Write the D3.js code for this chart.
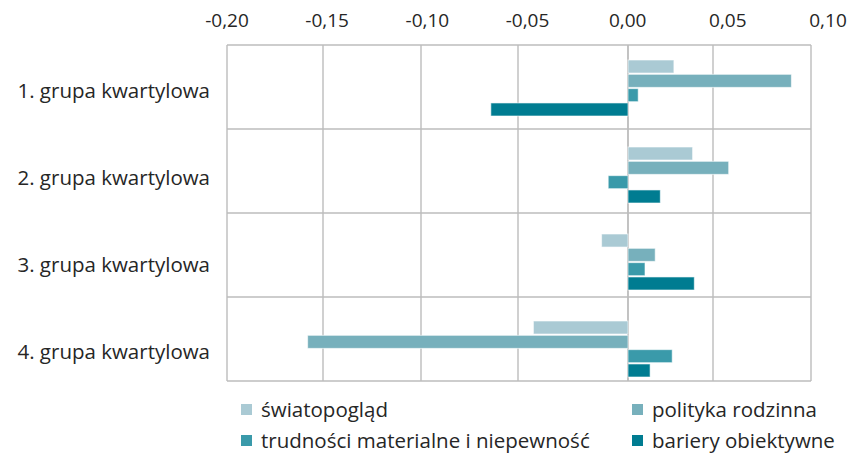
<!DOCTYPE html>
<html>
<head>
<meta charset="utf-8">
<script src="https://cdn.jsdelivr.net/npm/d3@7"></script>
<style>
  body { margin: 0; background: #fff; }
  text { font-family: "Open Sans", Lato, sans-serif; fill: #262626; }
</style>
</head>
<body>
<svg id="chart" width="852" height="456"></svg>
<script>
var groups = ["1. grupa kwartylowa", "2. grupa kwartylowa", "3. grupa kwartylowa", "4. grupa kwartylowa"];
var seriesNames = ["światopogląd", "polityka rodzinna", "trudności materialne i niepewność", "bariery obiektywne"];
var colors = ["#aacad4", "#77b0bc", "#3a9aaa", "#007c91"];
var swiatopoglad = [0.027, 0.038, -0.012, -0.043];
var politykaRodzinna = [0.090, 0.058, 0.016, -0.158];
var trudnosci = [0.006, -0.009, 0.010, 0.026];
var bariery = [-0.064, 0.019, 0.039, 0.013];
var ticks = [-0.20, -0.15, -0.10, -0.05, 0.00, 0.05, 0.10];

var values = [swiatopoglad, politykaRodzinna, trudnosci, bariery];

var svg = d3.select("#chart");
var plotTop = 45, plotBottom = 381, plotLeft = 227, plotRight = 811;

// gridlines in the picture are not evenly spaced, so the scale is piecewise
var x = d3.scaleLinear()
    .domain(ticks)
    .range([227, 323, 421, 518, 628, 713, 811]);
// tick labels sit evenly spaced above
var xLabel = d3.scaleLinear().domain([-0.2, 0.1]).range([227, 828]);

// separators use one step, bars + labels a slightly bigger one (as in the picture)
var yGrid = d3.scaleBand().domain(groups).range([plotTop, plotBottom]);
var y = d3.scaleBand().domain(groups).range([plotTop, plotTop + 4 * 87]);
var y1 = d3.scaleBand().domain(d3.range(4)).range([15, 71]).paddingInner(0.09);

// vertical gridlines
svg.selectAll(".grid")
    .data(ticks)
    .enter().append("line")
    .attr("x1", function(d) { return x(d); })
    .attr("x2", function(d) { return x(d); })
    .attr("y1", plotTop).attr("y2", plotBottom)
    .attr("stroke", function(d) { return d == 0 ? "#a9a9a9" : "#bcbcbc"; })
    .attr("stroke-width", 1.4);

// horizontal separators
svg.selectAll(".sep")
    .data(d3.range(groups.length + 1))
    .enter().append("line")
    .attr("x1", plotLeft).attr("x2", plotRight)
    .attr("y1", function(i) { return plotTop + i * yGrid.step(); })
    .attr("y2", function(i) { return plotTop + i * yGrid.step(); })
    .attr("stroke", "#bcbcbc")
    .attr("stroke-width", 1.4);

// tick labels
svg.selectAll(".tick")
    .data(ticks)
    .enter().append("text")
    .attr("x", function(d) { return xLabel(d); })
    .attr("y", 27)
    .attr("text-anchor", "middle")
    .attr("font-size", 19)
    .text(function(d) { return d3.format(".2f")(d).replace(".", ",").replace("−", "-"); });

// category labels
svg.selectAll(".cat")
    .data(groups)
    .enter().append("text")
    .attr("x", 210)
    .attr("y", function(d) { return y(d) + y.bandwidth() / 2 + 9; })
    .attr("text-anchor", "end")
    .attr("font-size", 20.5)
    .text(function(d) { return d; });

// bars
values.forEach(function(series, s) {
    svg.selectAll(".bar" + s)
        .data(series)
        .enter().append("rect")
        .attr("x", function(d) { return x(Math.min(0, d)); })
        .attr("width", function(d) { return Math.abs(x(d) - x(0)); })
        .attr("y", function(d, i) { return y(groups[i]) + y1(s); })
        .attr("height", y1.bandwidth())
        .attr("fill", colors[s])
        .attr("stroke", "#ffffff")
        .attr("stroke-opacity", 0.6)
        .attr("stroke-width", 1);
});

// legend
var legendPos = [[241, 410], [632, 410], [241, 441], [632, 441]];
seriesNames.forEach(function(name, i) {
    var g = svg.append("g").attr("transform", "translate(" + legendPos[i][0] + "," + legendPos[i][1] + ")");
    g.append("rect").attr("x", 0).attr("y", -6).attr("width", 11).attr("height", 11).attr("fill", colors[i]);
    g.append("text").attr("x", 20).attr("y", 7).attr("font-size", 20.5).text(name);
});
</script>
</body>
</html>
